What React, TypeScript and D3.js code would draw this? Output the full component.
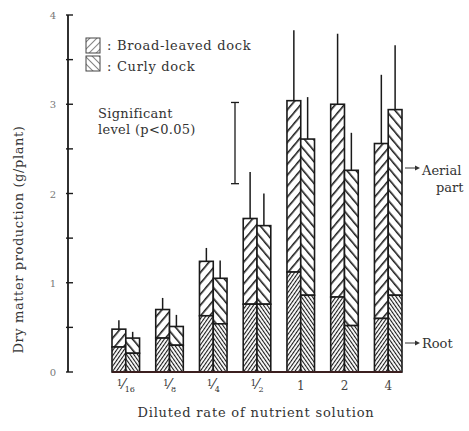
import * as d3 from "d3";

const width = 469;
const height = 431;

const categories = ["1/16", "1/8", "1/4", "1/2", "1", "2", "4"];
const species = ["Broad-leaved dock", "Curly dock"];

// total (aerial + root) and root dry matter, g/plant
const broadTotal = [0.48, 0.7, 1.24, 1.72, 3.04, 3.0, 2.56];
const broadRoot = [0.28, 0.38, 0.63, 0.76, 1.12, 0.84, 0.6];
const broadErr = [0.1, 0.13, 0.15, 0.52, 0.79, 0.79, 0.77];

const curlyTotal = [0.38, 0.51, 1.05, 1.64, 2.61, 2.26, 2.94];
const curlyRoot = [0.21, 0.3, 0.54, 0.76, 0.86, 0.52, 0.86];
const curlyErr = [0.07, 0.13, 0.2, 0.36, 0.47, 0.42, 0.72];

const yTicks = [0, 1, 2, 3, 4];
const lsd = [2.11, 3.02]; // significant level bar (p<0.05)

const x = d3.scaleBand().domain(categories).range([112, 402]).paddingInner(0.37).paddingOuter(0);
const xs = d3.scaleBand().domain(species).range([0, x.bandwidth()]);
const y = d3.scaleLinear().domain([0, 4]).range([372, 15]);

const ink = "#1a1a1a";
const txt = { fontFamily: '"DejaVu Serif", "Liberation Serif", serif' };

function Fraction({ label, cx }: { label: string; cx: number }) {
  const parts = label.split("/");
  if (parts.length === 1) {
    return (
      <text x={cx} y={390} textAnchor="middle" fontSize={12} fill="#444" style={txt}>
        {label}
      </text>
    );
  }
  return (
    <text x={cx} y={390} textAnchor="middle" fill="#333" style={txt}>
      <tspan fontSize={9} dy={-4}>{parts[0]}</tspan>
      <tspan fontSize={14} dy={3}>⁄</tspan>
      <tspan fontSize={8} dy={3}>{parts[1]}</tspan>
    </text>
  );
}

function Hatch({ id, size, angle, sw, color }: { id: string; size: number; angle: number; sw: number; color: string }) {
  return (
    <pattern id={id} width={size} height={size} patternUnits="userSpaceOnUse" patternTransform={`rotate(${angle})`}>
      <rect width={size} height={size} fill="#fff" />
      <line x1={0} y1={0} x2={0} y2={size} stroke={color} strokeWidth={sw} />
    </pattern>
  );
}

export default function App() {
  const series = [
    { name: species[0], total: broadTotal, root: broadRoot, err: broadErr, aerial: "aerB", rootP: "rootB" },
    { name: species[1], total: curlyTotal, root: curlyRoot, err: curlyErr, aerial: "aerC", rootP: "rootC" },
  ];
  const minor = d3.range(0, 4.01, 0.5);

  return (
    <svg width={width} height={height} style={{ position: "absolute", left: 0, top: 0, background: "#fff" }}>
      <defs>
        <Hatch id="aerB" size={7} angle={40} sw={3.2} color={ink} />
        <Hatch id="aerC" size={7} angle={-40} sw={3.2} color={ink} />
        <Hatch id="rootB" size={3} angle={35} sw={2.2} color={ink} />
        <Hatch id="rootC" size={3} angle={-35} sw={2.2} color={ink} />
        <Hatch id="legB" size={5} angle={45} sw={1.3} color="#444" />
        <Hatch id="legC" size={5} angle={-45} sw={1.3} color="#444" />
      </defs>

      {/* y axis */}
      <line x1={68} x2={68} y1={y(0)} y2={y(4)} stroke={ink} strokeWidth={1.8} />
      {minor.map((t) => (
        <line key={t} x1={66} x2={73} y1={y(t)} y2={y(t)} stroke={ink} strokeWidth={1.4} />
      ))}
      {yTicks.map((t) => (
        <text key={t} x={53} y={y(t) + 4} textAnchor="middle" fontSize={10} fill="#777" style={txt}>
          {t}
        </text>
      ))}
      <text
        transform={`translate(23,${(y(0) + y(4)) / 2 + 46}) rotate(-90)`}
        textAnchor="middle"
        fontSize={13}
        letterSpacing={0.6}
        fill="#333"
        style={txt}
      >
        Dry matter production (g/plant)
      </text>

      {/* bars */}
      {categories.map((c, i) => (
        <g key={c} transform={`translate(${x(c)},0)`}>
          {series.map((s) => {
            const bx = xs(s.name)!;
            const w = xs.bandwidth();
            const cx = bx + w / 2;
            return (
              <g key={s.name}>
                <line x1={cx} x2={cx} y1={y(s.total[i])} y2={y(s.total[i] + s.err[i])} stroke={ink} strokeWidth={1.5} />
                <rect x={bx} width={w} y={y(s.total[i])} height={y(s.root[i]) - y(s.total[i])} fill={`url(#${s.aerial})`} stroke={ink} strokeWidth={1.6} />
                <rect x={bx} width={w} y={y(s.root[i])} height={y(0) - y(s.root[i])} fill={`url(#${s.rootP})`} stroke={ink} strokeWidth={1.6} />
              </g>
            );
          })}
        </g>
      ))}

      {/* baseline */}
      <line x1={112} x2={402} y1={y(0)} y2={y(0)} stroke="#3b1f1f" strokeWidth={2} />

      {/* x labels */}
      {categories.map((c) => (
        <Fraction key={c} label={c} cx={x(c)! + x.bandwidth() / 2} />
      ))}
      <text x={256} y={417} textAnchor="middle" fontSize={13} letterSpacing={0.8} fill="#333" style={txt}>
        Diluted rate of nutrient solution
      </text>

      {/* legend */}
      <rect x={86} y={38} width={14} height={15} fill="url(#legB)" stroke="#444" strokeWidth={1} />
      <rect x={86} y={56} width={14} height={15} fill="url(#legC)" stroke="#444" strokeWidth={1} />
      <text x={107} y={50} fontSize={13} letterSpacing={0.7} fill="#333" style={txt}>
        : {species[0]}
      </text>
      <text x={107} y={71} fontSize={13} letterSpacing={0.7} fill="#333" style={txt}>
        : {species[1]}
      </text>

      {/* significant level */}
      <text x={98} y={118} fontSize={13} letterSpacing={0.3} fill="#333" style={txt}>
        Significant
      </text>
      <text x={98} y={134} fontSize={13} letterSpacing={0.3} fill="#333" style={txt}>
        level (p{"<"}0.05)
      </text>
      <line x1={235} x2={235} y1={y(lsd[0])} y2={y(lsd[1])} stroke={ink} strokeWidth={1.3} />
      <line x1={231} x2={239} y1={y(lsd[0])} y2={y(lsd[0])} stroke={ink} strokeWidth={1.3} />
      <line x1={231} x2={239} y1={y(lsd[1])} y2={y(lsd[1])} stroke={ink} strokeWidth={1.3} />

      {/* part annotations */}
      <line x1={405} x2={415} y1={168} y2={168} stroke="#333" strokeWidth={1} />
      <path d="M415,165.5 L420,168 L415,170.5 Z" fill="#333" />
      <text x={422} y={175} fontSize={13} fill="#333" style={txt}>Aerial</text>
      <text x={436} y={192} fontSize={13} fill="#333" style={txt}>part</text>
      <line x1={405} x2={415} y1={343} y2={343} stroke="#333" strokeWidth={1} />
      <path d="M415,340.5 L420,343 L415,345.5 Z" fill="#333" />
      <text x={422} y={348} fontSize={13} fill="#333" style={txt}>Root</text>
    </svg>
  );
}
